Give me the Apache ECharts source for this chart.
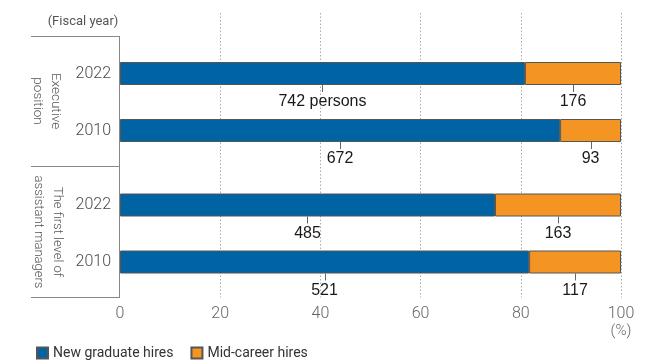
<!DOCTYPE html>
<html>
<head>
<meta charset="utf-8">
<script src="https://cdn.jsdelivr.net/npm/echarts@6/dist/echarts.min.js"></script>
<style>html,body{margin:0;padding:0;background:#fff}#c{width:662px;height:360px}</style>
</head>
<body>
<div id="c"></div>
<script>
// ---- data ----
const years = ['2022', '2010'];
const groupNames = ['Executive\nposition', 'The first level of\nassistant managers'];
const newGraduate = [[742, 672], [485, 521]];   // per group, per year
const midCareer = [[176, 93], [163, 117]];
const seriesNames = ['New graduate hires', 'Mid-career hires'];
const xTicks = [0, 20, 40, 60, 80, 100];

// ---- styles ----
const BLUE = '#0063a4', ORANGE = '#f39423', BORDER = '#555';
const BAR_W = 23;
const gridTops = [45, 176.5];
const GRID_H = 114;
const LEFT = 120, RIGHT = 41;

const grids = [], xAxes = [], yAxes = [], series = [];
gridTops.forEach((t, g) => {
  grids.push({left: LEFT, right: RIGHT, top: t, height: GRID_H});
  xAxes.push({gridIndex: g, type: 'value', min: 0, max: 100, show: false});
  yAxes.push({gridIndex: g, type: 'category', data: years, inverse: true,
    axisLine: {show: false}, axisTick: {show: false},
    axisLabel: {margin: 9, fontSize: 16, color: '#4a4a4a', fontFamily: 'Roboto', fontWeight: 300}});
  const tot = years.map((y, i) => newGraduate[g][i] + midCareer[g][i]);
  const pNew = years.map((y, i) => newGraduate[g][i] / tot[i] * 100);
  const pMid = years.map((y, i) => midCareer[g][i] / tot[i] * 100);
  series.push({name: seriesNames[0], type: 'bar', stack: 's' + g, xAxisIndex: g, yAxisIndex: g,
    barWidth: BAR_W, data: pNew, itemStyle: {color: BLUE, borderColor: BORDER, borderWidth: 1}, silent: true});
  series.push({name: seriesNames[1], type: 'bar', stack: 's' + g, xAxisIndex: g, yAxisIndex: g,
    barWidth: BAR_W, data: pMid, itemStyle: {color: ORANGE, borderColor: BORDER, borderWidth: 1}, silent: true});
  // count labels under each segment
  const lab = [];
  years.forEach((y, i) => {
    lab.push([pNew[i] / 2, i, String(newGraduate[g][i]) + (g === 0 && i === 0 ? ' persons' : '')]);
    lab.push([pNew[i] + pMid[i] / 2, i, String(midCareer[g][i])]);
  });
  series.push({type: 'custom', xAxisIndex: g, yAxisIndex: g, silent: true, z: 5,
    data: lab,
    renderItem: (params, api) => {
      const p = api.coord([api.value(0), api.value(1)]);
      const b = p[1] + BAR_W / 2;
      const item = lab[params.dataIndex];
      const x = Math.round(p[0]) + 0.5;
      return {type: 'group', children: [
        {type: 'line', shape: {x1: x, y1: b, x2: x, y2: b + 7},
          style: {stroke: '#666', lineWidth: 1}},
        {type: 'text', x: p[0], y: b + 17, style: {text: item[2], align: 'center', verticalAlign: 'middle',
          fontSize: 16, fontFamily: 'Liberation Sans', fill: '#1a1a1a'}}
      ]};
    }
  });
});
// overlay grid carrying the visible percent axis and gridlines
grids.push({left: LEFT, right: RIGHT, top: 13, bottom: 62.5});
xAxes.push({gridIndex: 2, type: 'value', min: xTicks[0], max: xTicks[xTicks.length - 1], interval: xTicks[1] - xTicks[0],
  axisLine: {show: false}, axisTick: {show: false},
  axisLabel: {margin: 8, fontSize: 16, color: '#666', fontFamily: 'Roboto', fontWeight: 300},
  splitLine: {show: true, showMinLine: false, lineStyle: {type: [1.5, 2], color: '#aaa', width: 1}}});
yAxes.push({gridIndex: 2, type: 'value', show: false});

const frame = '#888';
const graphic = [
  {type: 'line', shape: {x1: 31, y1: 36.5, x2: 120, y2: 36.5}, style: {stroke: frame, lineWidth: 1}},
  {type: 'line', shape: {x1: 31, y1: 166.5, x2: 120, y2: 166.5}, style: {stroke: frame, lineWidth: 1}},
  {type: 'line', shape: {x1: 31, y1: 297.5, x2: 120, y2: 297.5}, style: {stroke: frame, lineWidth: 1}},
  {type: 'line', shape: {x1: 119.5, y1: 36, x2: 119.5, y2: 298}, style: {stroke: frame, lineWidth: 1}, z: 10},
  {type: 'text', x: 83, y: 22, style: {text: '(Fiscal year)', align: 'center', verticalAlign: 'middle',
    fontSize: 13, fontFamily: 'Roboto', fill: '#555'}},
  {type: 'text', x: 621, y: 331, style: {text: '(%)', align: 'center', verticalAlign: 'middle',
    fontSize: 15, fontFamily: 'Roboto', fontWeight: 300, fill: '#666'}},
  {type: 'text', x: 46.5, y: 101, rotation: -Math.PI / 2, style: {text: groupNames[0], align: 'center',
    verticalAlign: 'middle', lineHeight: 18, fontSize: 13.5, fontFamily: 'Roboto', fontWeight: 300, fill: '#555'}},
  {type: 'text', x: 48, y: 232, rotation: -Math.PI / 2, style: {text: groupNames[1], align: 'center',
    verticalAlign: 'middle', lineHeight: 19, fontSize: 13, fontFamily: 'Roboto', fontWeight: 300, fill: '#555'}}
];

const chart = echarts.init(document.getElementById('c'), null, {renderer: 'canvas'});
chart.setOption({
  animation: false,
  grid: grids, xAxis: xAxes, yAxis: yAxes, series: series, graphic: graphic,
  legend: {data: seriesNames, left: 31, top: 341, icon: 'rect', itemWidth: 11, itemHeight: 11, itemGap: 17,
    selectedMode: false,
    textStyle: {fontSize: 14, color: '#333', fontFamily: 'Roboto'}}
});
</script>
</body>
</html>
